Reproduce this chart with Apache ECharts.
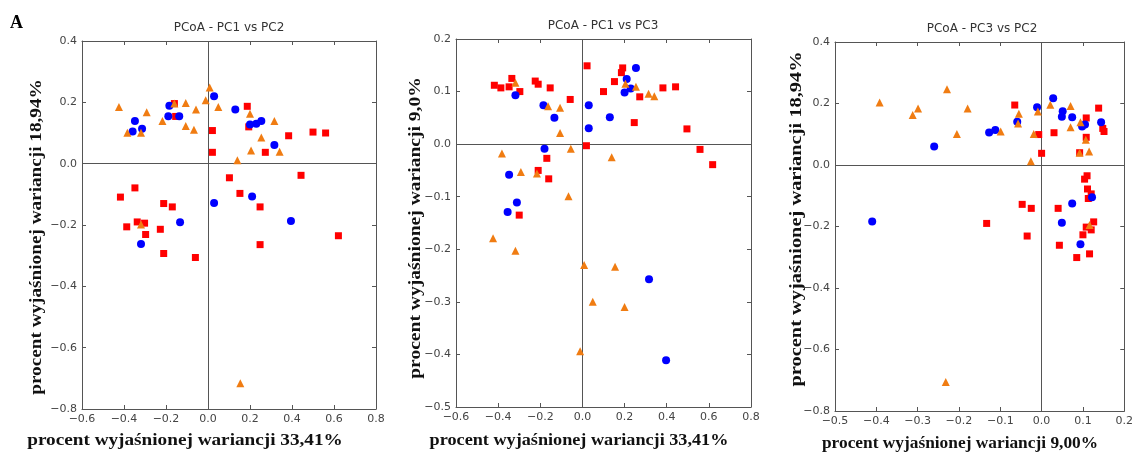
<!DOCTYPE html>
<html><head><meta charset="utf-8">
<script src="https://cdn.jsdelivr.net/npm/echarts@6/dist/echarts.min.js"></script>
<style>html,body{margin:0;padding:0;background:#fff}#c{width:1136px;height:457px}</style>
</head><body><div id="c"></div><script>
// ---- Data: [x, y] pairs ----
// Panel 1: PC1 vs PC2
const p1Red = [[-0.160,0.196],[-0.154,0.154],[0.187,0.187],[0.194,0.120],[0.021,0.108],[0.021,0.037],[0.273,0.037],[0.384,0.091],[0.500,0.103],[0.560,0.100],[0.102,-0.046],[0.152,-0.097],[0.443,-0.038],[-0.348,-0.079],[-0.417,-0.109],[-0.211,-0.130],[-0.170,-0.141],[0.248,-0.141],[-0.387,-0.206],[-0.337,-0.190],[-0.302,-0.194],[-0.297,-0.231],[-0.227,-0.214],[-0.211,-0.293],[-0.060,-0.306],[0.248,-0.264],[0.621,-0.235]];
const p1Blue = [[-0.348,0.139],[-0.359,0.105],[-0.314,0.114],[-0.184,0.189],[-0.189,0.155],[-0.137,0.155],[0.029,0.220],[0.130,0.177],[0.200,0.128],[0.230,0.130],[0.254,0.139],[0.316,0.061],[0.029,-0.128],[0.210,-0.107],[-0.133,-0.191],[-0.319,-0.262],[0.395,-0.187]];
const p1Orange = [[-0.424,0.185],[-0.384,0.101],[-0.319,0.101],[-0.292,0.168],[-0.217,0.139],[-0.160,0.196],[-0.106,0.198],[-0.106,0.123],[-0.067,0.111],[-0.057,0.177],[-0.011,0.207],[0.008,0.248],[0.049,0.185],[0.200,0.163],[0.254,0.085],[0.205,0.043],[0.140,0.011],[0.316,0.139],[0.341,0.039],[-0.319,-0.198],[0.154,-0.716]];
// Panel 2: PC1 vs PC3
const p2Red = [[-0.418,0.112],[-0.387,0.107],[-0.348,0.109],[-0.335,0.125],[-0.297,0.100],[-0.224,0.120],[-0.210,0.114],[-0.153,0.107],[-0.058,0.085],[0.022,0.149],[0.019,-0.003],[0.100,0.100],[0.152,0.119],[0.185,0.136],[0.191,0.145],[0.246,0.041],[0.272,0.090],[0.382,0.107],[0.442,0.109],[0.496,0.029],[0.558,-0.010],[0.618,-0.039],[-0.169,-0.027],[-0.210,-0.050],[-0.160,-0.066],[-0.300,-0.135]];
const p2Blue = [[-0.318,0.093],[-0.185,0.074],[-0.133,0.050],[0.030,0.074],[0.030,0.030],[0.130,0.051],[0.200,0.098],[0.210,0.124],[0.229,0.106],[0.254,0.145],[-0.180,-0.009],[-0.348,-0.058],[-0.311,-0.111],[-0.355,-0.129],[0.316,-0.257],[0.397,-0.411]];
const p2Orange = [[-0.318,0.117],[-0.163,0.072],[-0.106,0.069],[-0.106,0.021],[-0.055,-0.009],[-0.382,-0.018],[-0.292,-0.053],[-0.216,-0.056],[-0.066,-0.099],[0.139,-0.025],[0.204,0.115],[0.254,0.109],[0.314,0.096],[0.341,0.091],[-0.424,-0.179],[-0.318,-0.203],[0.008,-0.230],[0.155,-0.233],[0.049,-0.300],[0.200,-0.310],[-0.011,-0.394]];
// Panel 3: PC3 vs PC2
const p3Red = [[-0.065,0.195],[-0.007,0.099],[0.000,0.038],[0.030,0.105],[0.108,0.153],[0.108,0.090],[0.092,0.040],[0.138,0.185],[0.148,0.119],[0.151,0.109],[0.110,-0.035],[0.104,-0.046],[0.111,-0.078],[0.120,-0.094],[0.113,-0.109],[-0.047,-0.128],[-0.025,-0.141],[0.040,-0.141],[-0.035,-0.231],[0.126,-0.185],[0.108,-0.202],[0.120,-0.211],[0.100,-0.227],[0.043,-0.261],[0.116,-0.289],[0.085,-0.301],[-0.133,-0.190]];
const p3Blue = [[-0.410,-0.184],[-0.260,0.060],[-0.127,0.106],[-0.112,0.114],[-0.059,0.141],[-0.011,0.188],[0.028,0.217],[0.051,0.175],[0.049,0.157],[0.074,0.155],[0.098,0.125],[0.105,0.132],[0.144,0.139],[0.122,-0.105],[0.074,-0.125],[0.049,-0.188],[0.094,-0.258]];
const p3Orange = [[-0.392,0.203],[-0.312,0.163],[-0.299,0.184],[-0.229,0.246],[-0.179,0.184],[-0.205,0.101],[-0.099,0.109],[-0.057,0.135],[-0.055,0.167],[-0.019,0.101],[-0.009,0.174],[-0.026,0.012],[0.021,0.196],[0.070,0.192],[0.070,0.123],[0.094,0.139],[0.092,0.040],[0.115,0.044],[0.107,0.082],[0.116,-0.195],[-0.232,-0.706]];

// ---- Text ----
const panelTitles = ['PCoA - PC1 vs PC2','PCoA - PC1 vs PC3','PCoA - PC3 vs PC2'];
const xTitles = ['procent wyjaśnionej wariancji 33,41%','procent wyjaśnionej wariancji 33,41%','procent wyjaśnionej wariancji 9,00%'];
const yTitles = ['procent wyjaśnionej wariancji 18,94%','procent wyjaśnionej wariancji 9,0%','procent wyjaśnionej wariancji 18,94%'];
// axis ranges [min,max,interval]
const xRanges = [[-0.6,0.8,0.2],[-0.6,0.8,0.2],[-0.5,0.2,0.1]];
const yRanges = [[-0.8,0.4,0.2],[-0.5,0.2,0.1],[-0.8,0.4,0.2]];

const panels = [[p1Red,p1Blue,p1Orange],[p2Red,p2Blue,p2Orange],[p3Red,p3Blue,p3Orange]];
const grids = [
  {left:82, top:41, width:294, height:368},
  {left:456, top:39, width:295, height:368},
  {left:835, top:42, width:295, height:369}
];
const AX = '#555';
const fmt = v => (Math.round(v*10)/10).toFixed(1).replace('-','\u2212');
function axis(kind, g, r, pos){
  const showLab = (pos==='bottom'||pos==='left');
  return {type:'value', gridIndex:g, min:r[0], max:r[1], interval:r[2], position:pos,
    axisLine:{show:true, onZero:false, lineStyle:{color:AX, width:1}},
    axisTick:{show:true, inside:true, length:4, lineStyle:{color:AX, width:1}},
    axisLabel:{show:showLab, formatter:fmt, color:'#444', fontSize:11, fontFamily:'DejaVu Sans', margin:5, showMinLabel:true, showMaxLabel:true},
    splitLine:{show:false}};
}
const xAxis=[], yAxis=[], series=[];
const colors = ['#ff0000','#0000ff','#f07c12'];
const symbols = ['rect','circle','triangle'];
const sizes = [7,8,8];
panels.forEach((sets,g)=>{
  xAxis.push(axis('x',g,xRanges[g],'bottom'), axis('x',g,xRanges[g],'top'));
  yAxis.push(axis('y',g,yRanges[g],'left'), axis('y',g,yRanges[g],'right'));
  sets.forEach((d,k)=>{
    const s = {type:'scatter', xAxisIndex:2*g, yAxisIndex:2*g, data:d, symbol:symbols[k], symbolSize:sizes[k],
      itemStyle:{color:colors[k], opacity:1}, silent:true, z:3+k};
    if(k===0){
      s.markLine = {silent:true, symbol:['none','none'], label:{show:false}, animation:false,
        lineStyle:{color:AX, type:'solid', width:1}, data:[{xAxis:0},{yAxis:0}], z:1};
    }
    series.push(s);
  });
});

const titleFont = '12px "DejaVu Sans"';
const boldSerif = 'bold 17px "Liberation Serif"';
const xSX = [1.13, 1.07, 1.02];
const ySX = [1.13, 1.15, 1.2];
const titlePos = [[229,28],[603,26],[982,29]];
const xTitlePos = [[185,441],[579,441],[960,444]];
const yTitlePos = [[37,237],[416,228],[797,219]];
const graphic = [{type:'text', x:10, y:14, style:{text:'A', font:'bold 18px "Liberation Serif"', fill:'#000'}}];
for(let i=0;i<3;i++){
  graphic.push({type:'text', x:titlePos[i][0], y:titlePos[i][1], style:{text:panelTitles[i], font:titleFont, fill:'#333', align:'center', verticalAlign:'middle'}});
  graphic.push({type:'text', x:xTitlePos[i][0], y:xTitlePos[i][1], scaleX:xSX[i], style:{text:xTitles[i], font:boldSerif, fill:'#111', align:'center', verticalAlign:'middle'}});
  graphic.push({type:'text', x:yTitlePos[i][0], y:yTitlePos[i][1], rotation:Math.PI/2, scaleX:ySX[i], style:{text:yTitles[i], font:boldSerif, fill:'#111', align:'center', verticalAlign:'middle'}});
}

const chart = echarts.init(document.getElementById('c'), null, {renderer:'canvas'});
chart.setOption({animation:false, backgroundColor:'#fff', grid:grids, xAxis, yAxis, series, graphic});
</script></body></html>
